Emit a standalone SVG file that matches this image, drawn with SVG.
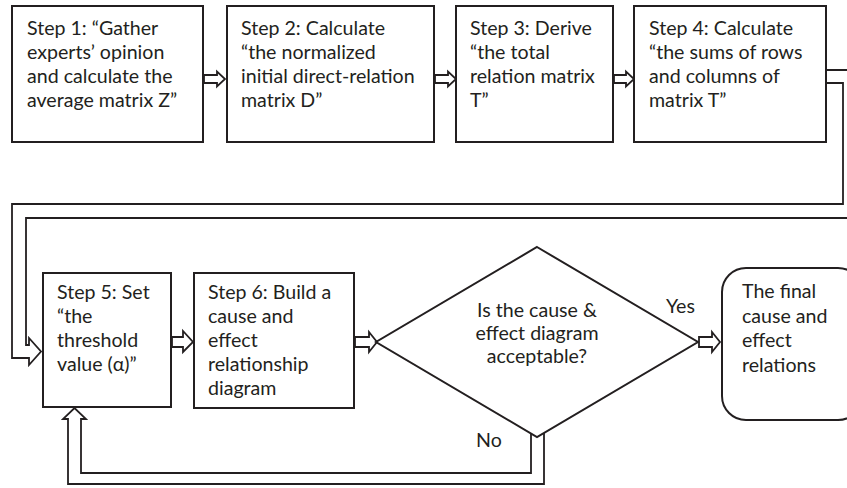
<svg xmlns="http://www.w3.org/2000/svg" width="847" height="488" viewBox="0 0 847 488">
<style>
.box{fill:#fff;stroke:#231f20;stroke-width:2}
.ln{fill:none;stroke:#231f20;stroke-width:1.8;stroke-linejoin:miter}
.arr{fill:#fff;stroke:#231f20;stroke-width:1.8}
text{font-family:Lato,"Liberation Sans",sans-serif;font-size:19.6px;fill:#231f20}
.c{text-anchor:middle}
</style>
<rect width="847" height="488" fill="#fff"/>
<g id="connectors">
<path class="ln" d="M826,70 L852,70 L852,218 L26,218 L26,345 L29,345 L29,338 L41,351.5 L29,365 L29,358 L12,358 L12,204 L843,204 L843,83 L826,83"/>
<path class="ln" d="M531,433.5 L531,473 L81,473 L81,419 L86,419 L74.5,408 L63,419 L68,419 L68,484 L544,484 L544,433"/>
<polygon class="arr" points="204,75 217,75 217,71.5 225,79 217,86.5 217,83 204,83"/>
<polygon class="arr" points="435,75 448,75 448,71.5 456,79 448,86.5 448,83 435,83"/>
<polygon class="arr" points="614,75 626,75 626,71.5 634,79 626,86.5 626,83 614,83"/>
<polygon class="arr" points="172,337 183,337 183,331 193,342 183,352 183,347 172,347"/>
<polygon class="arr" points="355,337 369,337 369,332 377,342 369,352 369,347 355,347"/>
<polygon class="arr" points="699,337 712,337 712,332 720,342 712,352 712,347 699,347"/>
</g>
<g id="step1">
<rect class="box" x="12" y="6" width="191" height="136"/>
<text x="27" y="35">Step 1: “Gather</text>
<text x="27" y="59">experts’ opinion</text>
<text x="27" y="83">and calculate the</text>
<text x="27" y="107">average matrix Z”</text>
</g>
<g id="step2">
<rect class="box" x="227" y="6" width="207" height="136"/>
<text x="241" y="35">Step 2: Calculate</text>
<text x="241" y="59">“the normalized</text>
<text x="241" y="83">initial direct-relation</text>
<text x="241" y="107">matrix D”</text>
</g>
<g id="step3">
<rect class="box" x="456" y="6" width="157" height="136"/>
<text x="470" y="35">Step 3: Derive</text>
<text x="470" y="59">“the total</text>
<text x="470" y="83">relation matrix</text>
<text x="470" y="107">T”</text>
</g>
<g id="step4">
<rect class="box" x="634" y="6" width="192" height="136"/>
<text x="649" y="35">Step 4: Calculate</text>
<text x="649" y="59">“the sums of rows</text>
<text x="649" y="83">and columns of</text>
<text x="649" y="107">matrix T”</text>
</g>
<g id="step5">
<rect class="box" x="43" y="273" width="128" height="134"/>
<text x="57" y="299">Step 5: Set</text>
<text x="57" y="323">“the</text>
<text x="57" y="347">threshold</text>
<text x="57" y="371">value (α)”</text>
</g>
<g id="step6">
<rect class="box" x="194" y="273" width="160" height="135"/>
<text x="208" y="299">Step 6: Build a</text>
<text x="208" y="323">cause and</text>
<text x="208" y="347">effect</text>
<text x="208" y="371">relationship</text>
<text x="208" y="395">diagram</text>
</g>
<g id="decision">
<polygon class="box" points="537,247 698,342 537,437 376,342"/>
<text class="c" x="537" y="317">Is the cause &amp;</text>
<text class="c" x="537" y="340">effect diagram</text>
<text class="c" x="537" y="363">acceptable?</text>
<text x="666" y="313">Yes</text>
<text x="476" y="447">No</text>
</g>
<g id="final">
<rect class="box" x="722" y="268" width="140" height="152" rx="24"/>
<text x="742" y="298">The final</text>
<text x="742" y="323">cause and</text>
<text x="742" y="347">effect</text>
<text x="742" y="372">relations</text>
</g>
</svg>
